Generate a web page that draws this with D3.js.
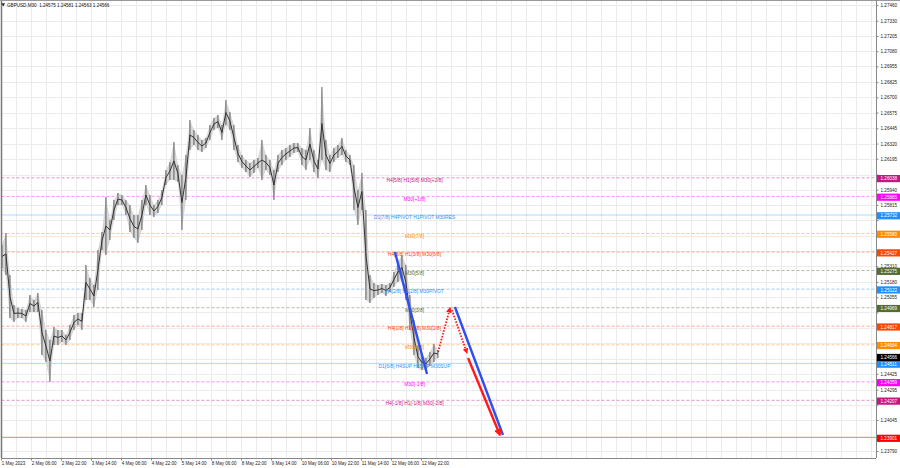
<!DOCTYPE html>
<html><head><meta charset="utf-8">
<script src="https://cdn.jsdelivr.net/npm/d3@7"></script>
<style>
body{margin:0;background:#fff}
svg{display:block;font-family:"Liberation Sans",Arial,sans-serif}
</style>
</head><body>
<svg id="c" width="900" height="468"></svg>
<script>
// ---------------- DATA ----------------
const titleText = "GBPUSD,M30  1.24575 1.24581 1.24563 1.24566";
const priceTicks = [1.27460,1.27330,1.27205,1.27080,1.26955,1.26825,1.26700,1.26575,1.26445,1.26320,
  1.26195,1.26065,1.25940,1.25815,1.25690,1.25560,1.25435,1.25310,1.25180,1.25055,1.24930,1.24800,
  1.24675,1.24550,1.24425,1.24295,1.24170,1.24045,1.23915,1.23790];
const dateLabels = ["1 May 2023","2 May 06:00","2 May 22:00","3 May 14:00","4 May 06:00","4 May 22:00",
  "5 May 14:00","8 May 06:00","8 May 22:00","9 May 14:00","10 May 06:00","10 May 22:00","11 May 14:00",
  "12 May 06:00","12 May 22:00"];
const dateHours = [0,16,32,48,64,80,96,112,128,144,160,176,192,208,224]; // trading hours since 1 May 00:00

// price columns (high / low), each about 2.13 trading hours
const highs = [1.25485,1.25584,1.25238,1.24991,1.24967,1.24959,1.24950,1.25074,1.25033,1.25090,
  1.24950,1.24786,1.24703,1.24810,1.24786,1.24786,1.24745,1.24827,1.24909,1.24926,
  1.24926,1.25321,1.25214,1.25156,1.25444,1.25592,1.25880,1.25691,1.25855,1.25913,
  1.25897,1.25855,1.25814,1.25732,1.25732,1.25855,1.25979,1.25897,1.25814,1.25855,
  1.25938,1.26102,1.26168,1.26333,1.26143,1.26061,1.26226,1.26514,1.26431,1.26390,
  1.26349,1.26366,1.26472,1.26530,1.26555,1.26472,1.26678,1.26579,1.26472,1.26308,
  1.26226,1.26185,1.26160,1.26185,1.26201,1.26349,1.26226,1.26185,1.26102,1.26226,
  1.26267,1.26283,1.26308,1.26324,1.26324,1.26283,1.26267,1.26448,1.26267,1.26185,
  1.26785,1.26349,1.26226,1.26283,1.26308,1.26366,1.26267,1.26226,1.26143,1.25938,
  1.26078,1.25773,1.25238,1.25172,1.25156,1.25164,1.25156,1.25172,1.25263,1.25345,
  1.25403,1.25321,1.25074,1.24868,1.24662,1.24580,1.24555,1.24605,1.24671,1.24621];
const lows = [1.25296,1.25238,1.24884,1.24852,1.24884,1.24884,1.24852,1.24934,1.24934,1.24934,
  1.24580,1.24522,1.24358,1.24662,1.24662,1.24687,1.24662,1.24703,1.24786,1.24827,
  1.24786,1.25033,1.25033,1.24975,1.25115,1.25444,1.25403,1.25526,1.25691,1.25814,
  1.25814,1.25732,1.25592,1.25543,1.25502,1.25609,1.25814,1.25732,1.25716,1.25748,
  1.25814,1.25979,1.26020,1.26020,1.26004,1.25609,1.25855,1.26267,1.26308,1.26267,
  1.26250,1.26283,1.26349,1.26431,1.26448,1.26349,1.26472,1.26431,1.26267,1.26168,
  1.26119,1.26086,1.26045,1.26078,1.26119,1.26020,1.26102,1.26061,1.25855,1.26086,
  1.26143,1.26185,1.26209,1.26242,1.26250,1.26143,1.26102,1.26185,1.26086,1.26036,
  1.26185,1.26102,1.26086,1.26168,1.26201,1.26226,1.26168,1.26143,1.25773,1.25650,
  1.25773,1.25033,1.25008,1.25049,1.25074,1.25090,1.25066,1.25098,1.25140,1.25181,
  1.25197,1.25033,1.24786,1.24580,1.24473,1.24457,1.24457,1.24490,1.24522,1.24555];

// Murrey levels
const levelPrices = [1.26038,1.25885,1.25732,1.25580,1.25427,1.25275,1.25122,1.24969,1.24817,1.24664,1.24511,1.24359,1.24207];
const levelTexts = ["H4[5/8] H1[5/8] M30[+2/8]","M30[+1/8]","D1[7/8] H4PIVOT H1PIVOT M30RES","M30[7/8]",
  "H4[3/8] H1[3/8] M30[6/8]","M30[5/8]","H4[2/8] H1[2/8] M30PIVOT","M30[3/8]","H4[1/8] H1[1/8] M30[2/8]",
  "M30[1/8]","D1[6/8] H4SUP H1SUP M30SUP","M30[-1/8]","H4[-1/8] H1[-1/8] M30[-2/8]"];
const targetPrice = 1.23901;
const lastPrice = 1.24566;

// projection segments [startHour, startPrice, endHour, endPrice]
const segStartHour  = [210.1, 242.1, 233.1, 240.5, 249.1];
const segStartPrice = [1.25428, 1.24975, 1.24605, 1.24950, 1.24555];
const segEndHour    = [227.2, 267.7, 239.5, 248.5, 266.1];
const segEndPrice   = [1.24424, 1.23922, 1.24967, 1.24597, 1.23922];

// ---------------- STYLES ----------------
const levelColors = ["#c71585","#ff00ff","#1e90ff","#ff8c00","#ff4500","#556b2f","#1e90ff","#556b2f","#ff4500","#ff8c00","#1e90ff","#ff00ff","#c71585"];
const levelSolid  = [false,false,true,false,false,false,false,false,false,false,true,false,false];
const segColors = ["#2f4ff2","#2f4ff2","#ff1a1a","#ff1a1a","#ff1a1a"];
const segDotted = [false,false,true,true,false];
const segArrow  = [false,false,true,true,true];

// ---------------- DRAW ----------------
const W = 900, H = 468;
const plotL = 1.5, plotR = 876, plotT = 0.5, plotB = 458;
const svg = d3.select("#c");

const y = d3.scaleLinear().domain([1.23790, 1.27460]).range([451, 5]);
const x = d3.scaleLinear().domain([0, 464]).range([1, 871]);
const colHour = d3.scaleLinear().domain([0, 1]).range([0.5, 0.5 + 2.1333]);

const defs = svg.append("defs");
defs.append("clipPath").attr("id","clip").append("rect")
  .attr("x", plotL).attr("y", plotT).attr("width", plotR - plotL).attr("height", plotB - plotT);
defs.append("marker").attr("id","arrowRed").attr("viewBox","0 0 10 10")
  .attr("refX",8).attr("refY",5).attr("markerWidth",3.2).attr("markerHeight",3.2)
  .attr("orient","auto").attr("markerUnits","strokeWidth")
  .append("path").attr("d","M0,0 L10,5 L0,10 z").attr("fill","#ff1a1a");

// grid
const grid = svg.append("g").attr("clip-path","url(#clip)");
const vHours = d3.range(0, 465, 8);
grid.selectAll("line.v").data(vHours).join("line")
  .attr("x1", d => Math.round(x(d)) + 0.5).attr("x2", d => Math.round(x(d)) + 0.5)
  .attr("y1", plotT).attr("y2", plotB).attr("stroke", "#ebebeb").attr("stroke-width", 1);
grid.selectAll("line.h").data(priceTicks).join("line")
  .attr("x1", plotL).attr("x2", plotR)
  .attr("y1", d => Math.round(y(d)) + 0.5).attr("y2", d => Math.round(y(d)) + 0.5)
  .attr("stroke", "#ebebeb").attr("stroke-width", 1);

// level lines
const lv = svg.append("g").attr("clip-path","url(#clip)");
lv.selectAll("line").data(levelPrices).join("line")
  .attr("x1", plotL).attr("x2", plotR)
  .attr("y1", d => y(d)).attr("y2", d => y(d))
  .attr("stroke", (d,i) => levelColors[i])
  .attr("stroke-opacity", (d,i) => levelSolid[i] ? 0.35 : 0.45)
  .attr("stroke-width", 1)
  .attr("stroke-dasharray", (d,i) => levelSolid[i] ? null : "3,2");
lv.append("line").attr("x1", plotL).attr("x2", plotR)
  .attr("y1", y(targetPrice)).attr("y2", y(targetPrice))
  .attr("stroke", "#ff0000").attr("stroke-opacity", 0.45).attr("stroke-width", 1);

// price band
const idx = d3.range(highs.length);
const area = d3.area()
  .x(i => x(colHour(i)))
  .y0(i => y(lows[i])).y1(i => y(highs[i]))
  .curve(d3.curveLinear);
const pg = svg.append("g").attr("clip-path","url(#clip)");
pg.append("path").datum(idx).attr("d", area)
  .attr("fill", "#d6d6d6").attr("stroke", "none");
pg.selectAll("line").data(idx).join("line")
  .attr("x1", i => x(colHour(i))).attr("x2", i => x(colHour(i)))
  .attr("y1", i => y(highs[i])).attr("y2", i => y(lows[i]))
  .attr("stroke", "#5c5c5c").attr("stroke-width", 1);
const mid = d3.line().x(i => x(colHour(i))).y(i => y((highs[i] + lows[i]) / 2));
pg.append("path").datum(idx).attr("d", mid)
  .attr("fill","none").attr("stroke","#333").attr("stroke-width",1).attr("stroke-linejoin","miter");

// level texts
svg.append("g").selectAll("text").data(levelPrices).join("text")
  .attr("x", 414.5).attr("y", d => y(d) + 4.3)
  .attr("text-anchor", "middle").attr("font-size", 4.9)
  .attr("fill", (d,i) => levelColors[i])
  .text((d,i) => levelTexts[i]);

// projection segments
const segIdx = d3.range(segStartHour.length);
svg.append("g").selectAll("line").data(segIdx).join("line")
  .attr("x1", i => x(segStartHour[i])).attr("y1", i => y(segStartPrice[i]))
  .attr("x2", i => x(segEndHour[i])).attr("y2", i => y(segEndPrice[i]))
  .attr("stroke", i => segColors[i])
  .attr("stroke-width", i => segDotted[i] ? 1.8 : 2.4)
  .attr("stroke-dasharray", i => segDotted[i] ? "1.6,1.4" : null)
  .attr("marker-end", i => segArrow[i] ? "url(#arrowRed)" : null);

// frame
svg.append("line").attr("x1", plotL).attr("x2", plotL).attr("y1", 0).attr("y2", plotB).attr("stroke","#777").attr("stroke-width",1.5);
svg.append("line").attr("x1", 0).attr("x2", W).attr("y1", plotT).attr("y2", plotT).attr("stroke","#999");
svg.append("line").attr("x1", plotR + 0.5).attr("x2", plotR + 0.5).attr("y1", 0).attr("y2", plotB).attr("stroke","#888");
svg.append("line").attr("x1", plotL).attr("x2", plotR).attr("y1", plotB + 0.5).attr("y2", plotB + 0.5).attr("stroke","#888");

// right price labels (tags)
const tagPrices = levelPrices.concat([lastPrice, targetPrice]);
const tagColors = levelColors.concat(["#000000", "#ff0000"]);

// price axis (tick labels hidden where a tag covers them)
const covered = p => tagPrices.some(t => Math.abs(y(t) + 0.8 - y(p)) < 5);
const yAxis = d3.axisRight(y).tickValues(priceTicks).tickFormat(d3.format(".5f")).tickSize(2).tickPadding(2);
const gy = svg.append("g").attr("transform", `translate(${plotR + 0.5},0)`).call(yAxis);
gy.select(".domain").remove();
gy.selectAll("line").attr("stroke","#888");
gy.selectAll("text").attr("font-size", 4.6).attr("fill","#222").attr("font-family","Liberation Sans, Arial, sans-serif");
gy.selectAll(".tick").filter(d => covered(d)).select("text").remove();

// time axis
const xAxis = d3.axisBottom(x).tickValues(dateHours).tickFormat((d,i) => dateLabels[i]).tickSize(2).tickPadding(1.5);
const gx = svg.append("g").attr("transform", `translate(0,${plotB + 0.5})`).call(xAxis);
gx.select(".domain").remove();
gx.selectAll("line").attr("stroke","#888");
gx.selectAll("text").attr("font-size", 4.5).attr("fill","#222").attr("text-anchor","start")
  .attr("font-family","Liberation Sans Narrow, Liberation Sans, Arial, sans-serif").attr("dx", 0.3);

const tags = svg.append("g").selectAll("g").data(tagPrices).join("g")
  .attr("transform", d => `translate(${plotR + 1},${y(d) + 0.8})`);
tags.append("rect").attr("x", 0).attr("y", -3.6).attr("width", W - plotR - 1).attr("height", 7.2)
  .attr("fill", (d,i) => tagColors[i]);
tags.append("text").attr("x", 3.5).attr("y", 1.7).attr("font-size", 4.6).attr("fill", "#fff")
  .text(d => d3.format(".5f")(d));

// title
svg.append("path").attr("d", "M1.5,3.2 L5,3.2 L3.25,6.6 Z").attr("fill","#222");
svg.append("text").attr("x", 7).attr("y", 6.6).attr("font-size", 4.6).attr("fill","#111")
  .attr("xml:space","preserve").style("white-space","pre").text(titleText);
</script>
</body></html>
